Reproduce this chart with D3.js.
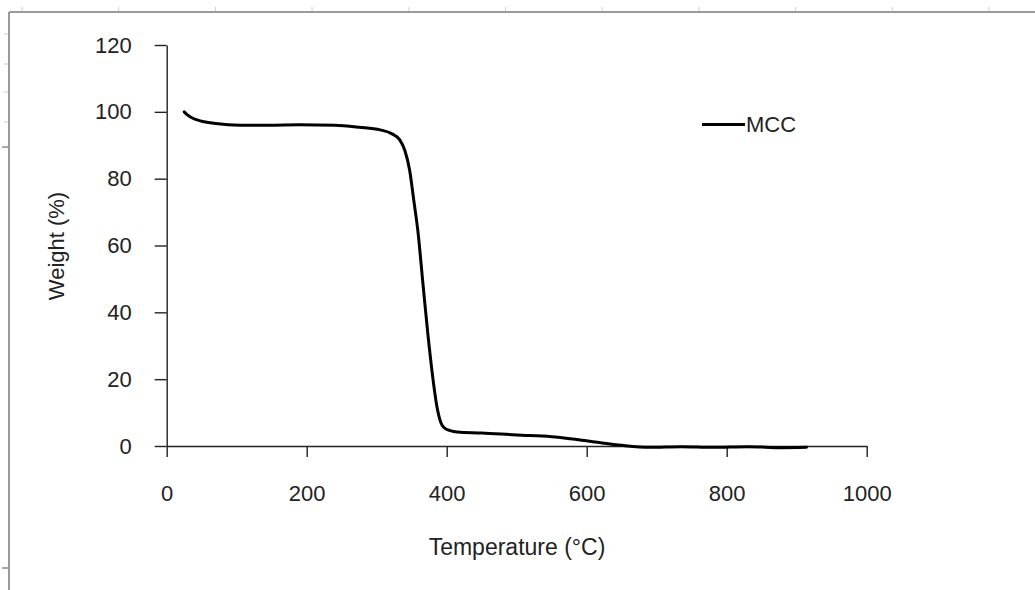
<!DOCTYPE html>
<html>
<head>
<meta charset="utf-8">
<script src="https://cdn.jsdelivr.net/npm/d3@7"></script>
<style>
html,body{margin:0;padding:0;background:#fff;}
svg{display:block;}
text{font-family:"Liberation Sans", Arial, sans-serif;}
</style>
</head>
<body>
<svg id="chart" width="1035" height="590"></svg>
<script>
// Data
const temperature = [25, 30, 38, 50, 70, 105, 145, 190, 240, 275, 305, 322, 333, 340, 347, 353, 359, 366, 373, 380, 386, 392, 398, 405, 415, 450, 500, 550, 580, 615, 650, 690, 735, 780, 830, 880, 914];
const weight      = [100, 99.0, 98.0, 97.2, 96.5, 96.0, 96.0, 96.1, 96.0, 95.4, 94.6, 93.4, 91.6, 88.6, 82.6, 73.5, 64, 48.7, 33.7, 20.7, 11.8, 6.8, 5.2, 4.6, 4.2, 3.9, 3.3, 2.8, 2.1, 1.1, 0.2, -0.4, -0.2, -0.4, -0.2, -0.5, -0.4];
const xTicks = [0, 200, 400, 600, 800, 1000];
const yTicks = [0, 20, 40, 60, 80, 100, 120];
const seriesName = "MCC";
const xLabel = "Temperature (°C)";
const yLabel = "Weight (%)";

const svg = d3.select("#chart");

// decorative frame (page ruler-like border)
const frame = svg.append("g");
frame.append("line").attr("x1", 9).attr("x2", 1035).attr("y1", 12).attr("y2", 12)
  .attr("stroke", "#9a9a9a").attr("stroke-width", 2);
frame.append("line").attr("x1", 9).attr("x2", 9).attr("y1", 12).attr("y2", 590)
  .attr("stroke", "#9a9a9a").attr("stroke-width", 2);
d3.range(0, 11).forEach(i => {
  const x = 22 + i * 96.7;
  frame.append("line").attr("x1", x).attr("x2", x).attr("y1", 7).attr("y2", 11)
    .attr("stroke", "#c9cde0").attr("stroke-width", 1);
});
[34, 64, 92, 122].forEach(y => {
  frame.append("line").attr("x1", 4).attr("x2", 8).attr("y1", y).attr("y2", y)
    .attr("stroke", "#c9cde0").attr("stroke-width", 1);
});
[147, 568].forEach(y => {
  frame.append("line").attr("x1", 2).attr("x2", 8).attr("y1", y).attr("y2", y)
    .attr("stroke", "#555").attr("stroke-width", 1);
});

// scales
const x = d3.scaleLinear().domain([0, 1000]).range([166.7, 866.7]);
const y = d3.scaleLinear().domain([0, 120]).range([446, 45]);

const fontSize = 22;

// x axis
const gx = svg.append("g").attr("transform", "translate(0,446)")
  .call(d3.axisBottom(x).tickValues(xTicks).tickSizeInner(11).tickSizeOuter(0).tickPadding(28).tickFormat(d3.format("d")));
gx.select(".domain").attr("stroke", "#222").attr("stroke-width", 1.4);
gx.selectAll(".tick line").attr("stroke", "#222").attr("stroke-width", 1.4);
gx.selectAll(".tick text").attr("font-size", fontSize).attr("fill", "#222")
  .attr("font-family", '"Liberation Sans", Arial, sans-serif');

// y axis
const gy = svg.append("g").attr("transform", "translate(166.7,0)")
  .call(d3.axisLeft(y).tickValues(yTicks).tickSizeInner(12).tickSizeOuter(0).tickPadding(23).tickFormat(d3.format("d")));
gy.select(".domain").attr("stroke", "#222").attr("stroke-width", 1.4);
gy.selectAll(".tick line").attr("stroke", "#222").attr("stroke-width", 1.4);
gy.selectAll(".tick text").attr("font-size", fontSize).attr("fill", "#222")
  .attr("font-family", '"Liberation Sans", Arial, sans-serif');

// series
const pts = temperature.map((t, i) => [t, weight[i]]);
const line = d3.line().x(d => x(d[0])).y(d => y(d[1])).curve(d3.curveMonotoneX);
svg.append("path").datum(pts).attr("d", line)
  .attr("fill", "none").attr("stroke", "#000").attr("stroke-width", 3)
  .attr("stroke-linejoin", "round").attr("stroke-linecap", "round");

// legend
const lg = svg.append("g").attr("transform", "translate(702,124.5)");
lg.append("line").attr("x1", 0).attr("x2", 43).attr("y1", 0).attr("y2", 0)
  .attr("stroke", "#000").attr("stroke-width", 3);
lg.append("text").attr("x", 44).attr("y", 0).attr("dy", "0.36em")
  .attr("font-size", fontSize).attr("fill", "#222").text(seriesName);

// axis titles
svg.append("text").attr("x", 517).attr("y", 555).attr("text-anchor", "middle")
  .attr("font-size", 23).attr("fill", "#222").text(xLabel);
svg.append("text").attr("transform", "translate(64,246) rotate(-90)")
  .attr("text-anchor", "middle").attr("font-size", fontSize).attr("fill", "#222").text(yLabel);
</script>
</body>
</html>
